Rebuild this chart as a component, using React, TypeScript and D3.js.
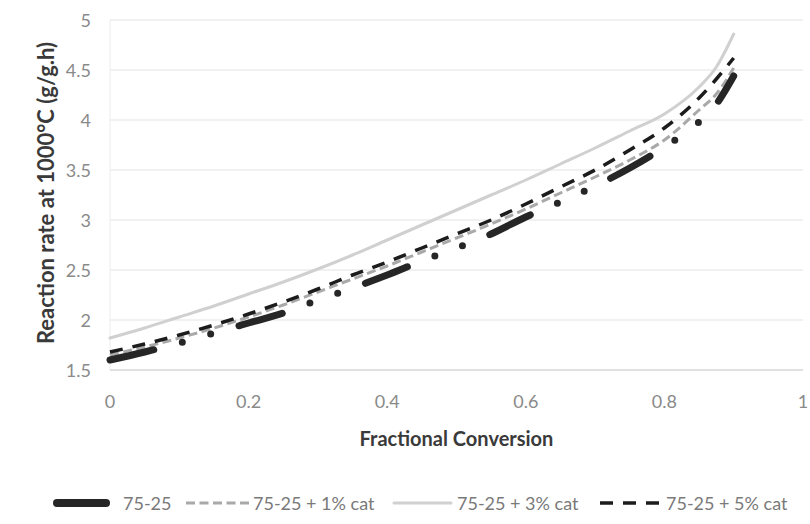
import React from "react";
import * as d3 from "d3";

// Fractional conversion sample points
const conversion = [0, 0.05, 0.1, 0.15, 0.2, 0.25, 0.3, 0.35, 0.4, 0.45, 0.5, 0.55, 0.6, 0.65, 0.7, 0.75, 0.8, 0.85, 0.875, 0.9];

// Reaction rate at 1000°C (g/g.h) for each blend
const rateBase = [1.6, 1.68, 1.77, 1.87, 1.97, 2.07, 2.2, 2.32, 2.45, 2.59, 2.72, 2.86, 3.03, 3.18, 3.34, 3.52, 3.73, 3.98, 4.16, 4.44];
const rateCat1 = [1.65, 1.73, 1.82, 1.92, 2.03, 2.15, 2.28, 2.41, 2.54, 2.68, 2.82, 2.96, 3.11, 3.27, 3.43, 3.6, 3.8, 4.1, 4.26, 4.52];
const rateCat3 = [1.82, 1.92, 2.03, 2.14, 2.26, 2.38, 2.51, 2.65, 2.8, 2.95, 3.1, 3.25, 3.4, 3.56, 3.72, 3.89, 4.06, 4.33, 4.53, 4.86];
const rateCat5 = [1.68, 1.76, 1.85, 1.95, 2.06, 2.18, 2.31, 2.45, 2.58, 2.72, 2.86, 3.0, 3.16, 3.33, 3.5, 3.7, 3.92, 4.22, 4.41, 4.62];

const seriesNames = ["75-25", "75-25 + 1% cat", "75-25 + 3% cat", "75-25 + 5% cat"];

const xTicks = [0, 0.2, 0.4, 0.6, 0.8, 1];
const yTicks = [1.5, 2, 2.5, 3, 3.5, 4, 4.5, 5];

const FONT = "Lato, 'Open Sans', sans-serif";

type LineStyle = {
  stroke: string;
  width: number;
  dash?: string;
  cap: "round" | "butt";
};

const styles: LineStyle[] = [
  { stroke: "#262626", width: 7, dash: "45 29.5 0 29.5 0 29.5", cap: "round" },
  { stroke: "#a9a9a9", width: 3, dash: "9 4.5", cap: "butt" },
  { stroke: "#d0d0d0", width: 3, cap: "round" },
  { stroke: "#1c1c1c", width: 3.5, dash: "13 10", cap: "butt" },
];

export default function App() {
  const width = 810;
  const height = 524;
  const x = d3.scaleLinear().domain([0, 1]).range([110, 803]);
  const y = d3.scaleLinear().domain([1.5, 5]).range([370, 20]);

  const allRates = [rateBase, rateCat1, rateCat3, rateCat5];
  const line = d3
    .line<number>()
    .x((_, i) => x(conversion[i]))
    .y((d) => y(d))
    .curve(d3.curveMonotoneX);

  // draw order: light solid at the back, heavy line in front
  const drawOrder = [2, 1, 3, 0];

  const legendItems = [
    { lx0: 57, lx1: 106, tx: 123 },
    { lx0: 186, lx1: 249, tx: 253 },
    { lx0: 394, lx1: 451, tx: 457 },
    { lx0: 600, lx1: 659, tx: 666 },
  ];
  const legendY = 503;

  return (
    <div style={{ position: "fixed", left: 0, top: 0 }}>
      <svg width={width} height={height} style={{ display: "block", background: "#ffffff" }}>
        {/* horizontal gridlines */}
        {yTicks.slice(1).map((t) => (
          <line key={t} x1={x(0)} x2={x(1)} y1={y(t)} y2={y(t)} stroke="#e3e3e3" strokeWidth={1} />
        ))}
        <line x1={x(0)} x2={x(0)} y1={y(5)} y2={y(1.5)} stroke="#ececec" strokeWidth={1} />
        {/* category axis */}
        <line x1={x(0)} x2={x(1)} y1={y(1.5)} y2={y(1.5)} stroke="#d6d6d6" strokeWidth={1.5} />

        {/* y tick labels */}
        {yTicks.map((t) => (
          <text
            key={t}
            x={91}
            y={y(t)}
            textAnchor="end"
            dominantBaseline="central"
            fontFamily={FONT}
            fontSize={18}
            fill="#8a8a8a"
          >
            {String(t)}
          </text>
        ))}
        {/* x tick labels */}
        {xTicks.map((t) => (
          <text
            key={t}
            x={x(t)}
            y={401}
            textAnchor="middle"
            dominantBaseline="central"
            fontFamily={FONT}
            fontSize={18}
            fill="#8a8a8a"
          >
            {String(t)}
          </text>
        ))}

        {/* axis titles */}
        <text
          x={(x(0) + x(1)) / 2}
          y={438}
          textAnchor="middle"
          dominantBaseline="central"
          fontFamily={FONT}
          fontWeight="bold"
          fontSize={20}
          fill="#3a3a3a"
        >
          Fractional Conversion
        </text>
        <text
          transform={`translate(45, ${(y(5) + y(1.5)) / 2 - 2}) rotate(-90)`}
          textAnchor="middle"
          dominantBaseline="central"
          fontFamily={FONT}
          fontWeight="bold"
          fontSize={22}
          fill="#3a3a3a"
        >
          Reaction rate at 1000°C (g/g.h)
        </text>

        {/* series */}
        {drawOrder.map((si) => {
          const s = styles[si];
          return (
            <path
              key={seriesNames[si]}
              d={line(allRates[si]) || ""}
              fill="none"
              stroke={s.stroke}
              strokeWidth={s.width}
              strokeDasharray={s.dash}
              strokeLinecap={s.cap}
              strokeLinejoin="round"
            />
          );
        })}

        {/* legend */}
        {seriesNames.map((name, i) => {
          const s = styles[i];
          const item = legendItems[i];
          return (
            <g key={name}>
              <line
                x1={item.lx0}
                x2={item.lx1}
                y1={legendY}
                y2={legendY}
                stroke={s.stroke}
                strokeWidth={i === 0 ? 8 : s.width}
                strokeDasharray={i === 0 ? undefined : s.dash}
                strokeLinecap={s.cap}
              />
              <text
                x={item.tx}
                y={legendY}
                dominantBaseline="central"
                fontFamily={FONT}
                fontSize={18}
                fill="#7a7a7a"
              >
                {name}
              </text>
            </g>
          );
        })}
      </svg>
    </div>
  );
}
